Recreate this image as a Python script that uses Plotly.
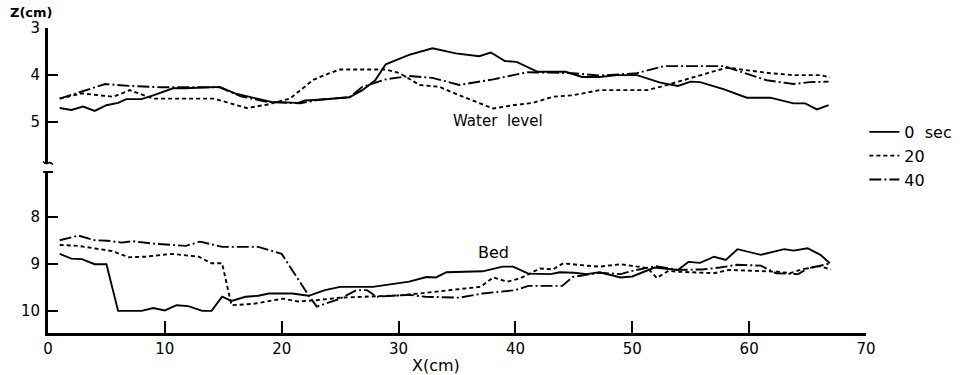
import plotly.graph_objects as go

# ---- data ----
# Water level (upper panel)
ws0_x = [1, 2, 3, 4, 5, 6, 6.7, 8, 9, 10.7, 11.7, 14.7, 16, 17.4, 19.1, 21.4, 22, 23.5, 25.8, 26.9, 28, 28.9,
         30.9, 32.9, 34.9, 36.9, 37.9, 39.1, 40.1, 41.9, 44.3, 45.7, 47.2, 48.7, 50.4, 52.4, 53.9, 55, 55.8,
         57.8, 59.8, 61.8, 63.8, 64.8, 65.8, 66.8]
ws0_y = [4.70, 4.74, 4.67, 4.76, 4.64, 4.59, 4.51, 4.51, 4.43, 4.28, 4.28, 4.25, 4.39, 4.47, 4.57, 4.59, 4.54,
         4.52, 4.47, 4.32, 4.11, 3.77, 3.57, 3.43, 3.54, 3.60, 3.52, 3.70, 3.72, 3.93, 3.93, 4.04, 4.04, 4.00,
         4.00, 4.16, 4.23, 4.14, 4.15, 4.30, 4.48, 4.48, 4.60, 4.60, 4.73, 4.64]

ws20_x = [1, 2.9, 5.6, 7.0, 9.0, 14.2, 17.0, 18.7, 20.7, 22.7, 24.1, 25.0, 26.7, 28.9, 30.1, 31.8, 33.5, 35.2,
          38.1, 39.8, 41.5, 43.2, 44.9, 47.2, 49.0, 51.3, 52.4, 53.9, 55.3, 58.1, 59.6, 61.8, 63.8, 66.1, 66.9]
ws20_y = [4.50, 4.39, 4.46, 4.32, 4.50, 4.50, 4.70, 4.63, 4.50, 4.10, 3.96, 3.88, 3.88, 3.88, 3.96, 4.21, 4.25,
          4.43, 4.71, 4.64, 4.59, 4.46, 4.43, 4.32, 4.32, 4.32, 4.25, 4.14, 4.04, 3.84, 3.89, 3.96, 4.00, 4.00, 4.05]

ws40_x = [1, 4.9, 6.9, 9.7, 14.7, 16.5, 18.7, 21.6, 23.3, 25.8, 26.9, 28.9, 30.9, 32.9, 35.2, 38.1, 41.0, 43.2,
          44.9, 47.2, 50.4, 52.7, 57.8, 61.5, 63.8, 65.2, 66.8]
ws40_y = [4.50, 4.19, 4.23, 4.26, 4.26, 4.45, 4.57, 4.60, 4.52, 4.47, 4.25, 4.09, 4.02, 4.06, 4.21, 4.09, 3.94,
          3.95, 3.96, 4.01, 3.96, 3.81, 3.81, 4.11, 4.19, 4.15, 4.14]

# Bed (lower panel)
bs0_x = [1, 2, 2.9, 4, 5, 6, 8, 9, 10, 11, 12, 13.2, 14, 14.9, 15.7, 16.9, 18, 18.9, 20.9, 22.3, 23.7, 25, 27.8,
         30.9, 32.4, 33.2, 34.1, 37.2, 38.9, 39.8, 41.1, 43, 43.8, 45, 46.1, 47.2, 49, 50, 51.9, 53.9, 54.8, 55.8,
         57, 58, 59, 61, 63, 63.8, 65, 66.1, 66.9]
bs0_y = [8.79, 8.89, 8.90, 9.01, 9.01, 10.0, 10.0, 9.94, 9.99, 9.88, 9.90, 10.0, 10.0, 9.70, 9.79, 9.70, 9.68,
         9.63, 9.63, 9.68, 9.56, 9.49, 9.49, 9.38, 9.28, 9.29, 9.18, 9.16, 9.06, 9.06, 9.21, 9.22, 9.18, 9.19,
         9.22, 9.18, 9.29, 9.27, 9.08, 9.13, 8.96, 8.98, 8.85, 8.92, 8.69, 8.81, 8.69, 8.72, 8.67, 8.81, 8.99]

bs20_x = [1, 2.6, 5.5, 6.9, 8.3, 10.6, 12.9, 14.0, 14.9, 15.7, 17.6, 20.1, 21.4, 23.1, 25.0, 27.8, 30.1, 31.8,
          34.7, 37.0, 38.1, 39.3, 40.4, 42.1, 43.2, 44.1, 46.1, 47.2, 49, 50.3, 51.3, 52.1, 53.1, 54, 57, 58.3,
          61, 62.5, 63.5, 64.5, 66, 67]
bs20_y = [8.60, 8.62, 8.73, 8.86, 8.85, 8.79, 8.85, 8.99, 8.99, 9.88, 9.85, 9.74, 9.80, 9.77, 9.72, 9.70, 9.67,
          9.63, 9.56, 9.49, 9.29, 9.38, 9.31, 9.10, 9.12, 8.99, 9.04, 9.06, 9.01, 9.06, 9.09, 9.30, 9.15, 9.17,
          9.20, 9.13, 9.15, 9.17, 9.20, 9.12, 9.05, 9.12]

bs40_x = [1, 2.6, 4, 5.1, 6.3, 7.2, 8.9, 10.6, 11.8, 13, 14.9, 18, 20, 22.3, 23.0, 25.0, 26.4, 27.3, 28.1, 30.9,
          32.3, 35.2, 37.2, 40.0, 41.1, 44.0, 44.9, 45.7, 47.2, 49, 50, 52, 53.9, 56, 57.5, 59, 61, 62.3, 63.5,
          64.2, 65, 66, 67]
bs40_y = [8.50, 8.40, 8.50, 8.51, 8.55, 8.52, 8.57, 8.60, 8.62, 8.53, 8.64, 8.64, 8.79, 9.67, 9.91, 9.74, 9.56,
          9.56, 9.70, 9.66, 9.70, 9.72, 9.63, 9.56, 9.47, 9.47, 9.28, 9.25, 9.19, 9.22, 9.15, 9.05, 9.13, 9.12,
          9.08, 9.02, 9.04, 9.20, 9.22, 9.22, 9.10, 9.05, 8.99]

series_names = ["0  sec", "20", "40"]
x_ticks = [0, 10, 20, 30, 40, 50, 60, 70]
y_upper_ticks = [3, 4, 5]
y_lower_ticks = [8, 9, 10]

FONT = "DejaVu Sans"
dashes = ["solid", "4px,3px", "12px,3px,2px,3px"]

upper = [(ws0_x, ws0_y), (ws20_x, ws20_y), (ws40_x, ws40_y)]
lower = [(bs0_x, bs0_y), (bs20_x, bs20_y), (bs40_x, bs40_y)]

fig = go.Figure()
for i, (xs, ys) in enumerate(upper):
    fig.add_trace(go.Scatter(x=xs, y=ys, mode="lines", name=series_names[i], legendgroup=str(i),
                             line=dict(color="black", width=1.9, dash=dashes[i]),
                             xaxis="x", yaxis="y"))
for i, (xs, ys) in enumerate(lower):
    fig.add_trace(go.Scatter(x=xs, y=ys, mode="lines", name=series_names[i], legendgroup=str(i),
                             showlegend=False,
                             line=dict(color="black", width=1.9, dash=dashes[i]),
                             xaxis="x", yaxis="y2"))

up_dom = [0.557, 1.0]
lo_dom = [0.0, 0.528]

axis_common = dict(showgrid=False, zeroline=False, showline=True, linecolor="black", linewidth=3,
                   ticks="inside", tickcolor="black", tickwidth=2,
                   tickfont=dict(family=FONT, size=15, color="black"))

fig.update_layout(
    width=969, height=375,
    margin=dict(l=48, r=103, t=28, b=42, autoexpand=False),
    paper_bgcolor="white", plot_bgcolor="white",
    font=dict(family=FONT, size=14, color="black"),
    xaxis=dict(range=[0, 70], anchor="y2", tickvals=x_ticks, ticklen=12, **axis_common),
    yaxis=dict(range=[5.87, 3], domain=up_dom, anchor="x", tickvals=y_upper_ticks, ticklen=10, ticklabelstandoff=2, **axis_common),
    yaxis2=dict(range=[10.47, 7.05], domain=lo_dom, anchor="x", tickvals=y_lower_ticks, ticklen=10, ticklabelstandoff=2, **axis_common),
    showlegend=True,
    legend=dict(x=0.998, xanchor="left", y=0.715, yanchor="top", bgcolor="rgba(0,0,0,0)",
                font=dict(family=FONT, size=16, color="black"), tracegroupgap=0, itemwidth=30),
    annotations=[
        dict(text="<b>Z(cm)</b>", xref="paper", yref="paper", x=-0.049, y=1.05, xanchor="left", yanchor="middle",
             showarrow=False, font=dict(family=FONT, size=13, color="black")),
        dict(text="X(cm)", xref="paper", yref="paper", x=0.474, y=-0.105, xanchor="center", yanchor="middle",
             showarrow=False, font=dict(family=FONT, size=16, color="black")),
        dict(text="Water  level", xref="x", yref="y", x=38.5, y=4.98, showarrow=False,
             font=dict(family=FONT, size=15, color="black")),
        dict(text="Bed", xref="x", yref="y2", x=38.1, y=8.76, showarrow=False,
             font=dict(family=FONT, size=16, color="black")),
    ],
    shapes=[
        dict(type="path", xref="paper", yref="paper",
             path="M -0.006 0.562 Q -0.003 0.552 0.0 0.557 Q 0.003 0.562 0.006 0.552",
             line=dict(color="black", width=1.5)),
        dict(type="line", xref="paper", yref="paper", x0=-0.006, x1=0.006, y0=0.528, y1=0.528,
             line=dict(color="black", width=2)),
    ],
)

fig.write_html("out.html")
